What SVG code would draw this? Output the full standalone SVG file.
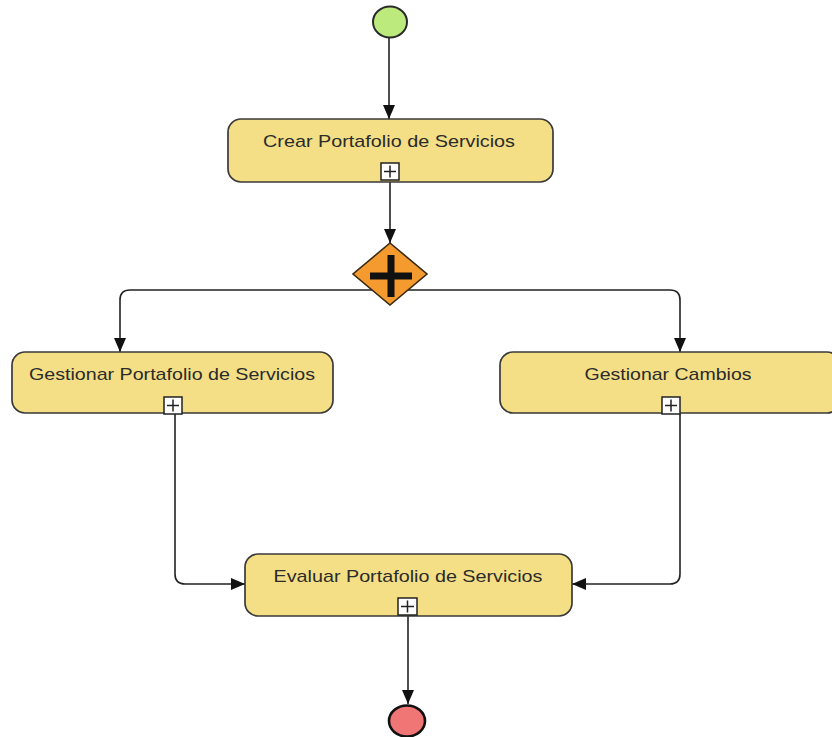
<svg xmlns="http://www.w3.org/2000/svg" width="832" height="737" viewBox="0 0 832 737">
  <style>
    .task { fill: #F4DF86; stroke: #3a3a3a; stroke-width: 1.7; }
    .label { font-family: "Liberation Sans", Arial, sans-serif; font-size: 17px; fill: #2b2b2b; text-anchor: middle; }
    .sub { fill: #ffffff; stroke: #222; stroke-width: 1.5; }
    .subplus { stroke: #222; stroke-width: 1.5; fill: none; }
    .flow { fill: none; stroke: #222; stroke-width: 1.6; }
  </style>
  <defs>
    <marker id="arrow" viewBox="0 0 14 12" refX="14" refY="6" markerWidth="14" markerHeight="12" markerUnits="userSpaceOnUse" orient="auto">
      <path d="M0,0 L14,6 L0,12 Z" fill="#111"/>
    </marker>
  </defs>
  <rect width="832" height="737" fill="#ffffff"/>

  <g id="connectors">
    <path class="flow" d="M389,38 L389,119" marker-end="url(#arrow)"/>
    <path class="flow" d="M390,182 L390,243" marker-end="url(#arrow)"/>
    <path class="flow" d="M390,290 L130,290 Q120,290 120,300 L120,352" marker-end="url(#arrow)"/>
    <path class="flow" d="M390,290 L670,290 Q680,290 680,300 L680,352" marker-end="url(#arrow)"/>
    <path class="flow" d="M175,414 L175,574 Q175,584 185,584 L245,584" marker-end="url(#arrow)"/>
    <path class="flow" d="M680,414 L680,574 Q680,584 670,584 L572,584" marker-end="url(#arrow)"/>
    <path class="flow" d="M408,616 L408,704" marker-end="url(#arrow)"/>
  </g>

  <g id="start">
    <ellipse cx="390" cy="22" rx="17" ry="15.5" fill="#BDEA7C" stroke="#2a2a2a" stroke-width="2"/>
  </g>

  <g id="crear">
    <rect class="task" x="228" y="119" width="325" height="63" rx="13"/>
    <text class="label" x="389" y="147" textLength="252" lengthAdjust="spacingAndGlyphs">Crear Portafolio de Servicios</text>
    <rect class="sub" x="381" y="163" width="18" height="17"/>
    <path class="subplus" d="M384,171.5 H396 M390,165.5 V177.5"/>
  </g>

  <g id="gateway">
    <polygon points="390,243 427,274 390,305 353,274" fill="#F59A2E" stroke="#3a2a10" stroke-width="1.6"/>
    <path d="M370,276 H412 M391,255 V297" stroke="#111" stroke-width="7" fill="none"/>
  </g>

  <g id="gestionar-portafolio">
    <rect class="task" x="12" y="352" width="321" height="61" rx="13"/>
    <text class="label" x="172" y="380" textLength="286" lengthAdjust="spacingAndGlyphs">Gestionar Portafolio de Servicios</text>
    <rect class="sub" x="164" y="397" width="18" height="17"/>
    <path class="subplus" d="M167,405.5 H179 M173,399.5 V411.5"/>
  </g>

  <g id="gestionar-cambios">
    <rect class="task" x="500" y="352" width="340" height="61" rx="13"/>
    <text class="label" x="668" y="380" textLength="167" lengthAdjust="spacingAndGlyphs">Gestionar Cambios</text>
    <rect class="sub" x="662" y="397" width="18" height="17"/>
    <path class="subplus" d="M665,405.5 H677 M671,399.5 V411.5"/>
  </g>

  <g id="evaluar">
    <rect class="task" x="245" y="554" width="327" height="62" rx="13"/>
    <text class="label" x="408" y="582" textLength="269" lengthAdjust="spacingAndGlyphs">Evaluar Portafolio de Servicios</text>
    <rect class="sub" x="398" y="598" width="19" height="17"/>
    <path class="subplus" d="M401,606.5 H414 M407.5,600.5 V612.5"/>
  </g>

  <g id="end">
    <ellipse cx="407" cy="721" rx="18" ry="15.5" fill="#F07575" stroke="#111" stroke-width="2.6"/>
  </g>
</svg>
